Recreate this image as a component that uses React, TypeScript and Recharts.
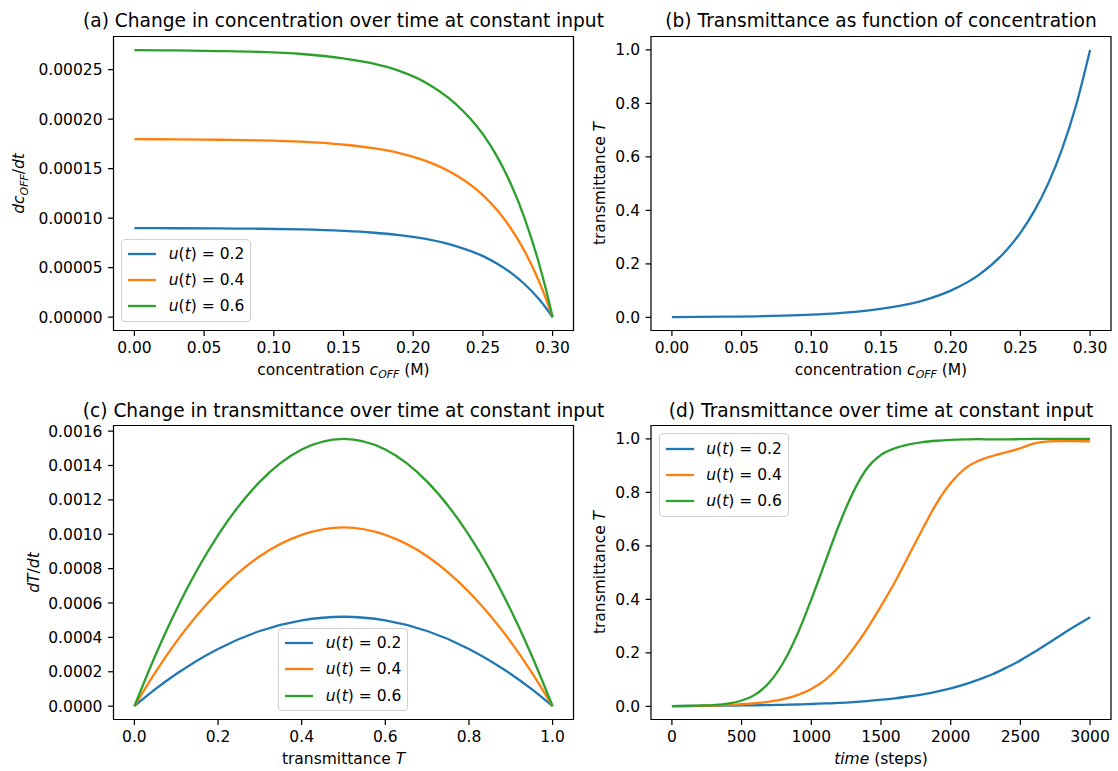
import { Legend, Line, LineChart, ReferenceArea, XAxis, YAxis } from "recharts";

const FONT = "DejaVu Sans";
const INK = "#000";
const BLUE = "#1f77b4";
const ORANGE = "#ff7f0e";
const GREEN = "#2ca02c";
const LINE_W = 2.3;
const FRAME_W = 1.24;
const TICK_STYLE = { fill: INK, fontSize: 15.5, fontFamily: FONT };

const inputs = ["0.2", "0.4", "0.6"];
const seriesColors = [BLUE, ORANGE, GREEN];
const seriesKeys = ["u02", "u04", "u06"];

// (a) dc_OFF/dt against concentration
const concA = [0, 0.03, 0.06, 0.09, 0.12, 0.15, 0.17, 0.19, 0.21, 0.23, 0.25, 0.26, 0.27, 0.28, 0.29, 0.295, 0.3];
const dcdtU02 = [0.0000899, 0.0000898, 0.0000896, 0.0000893, 0.0000886, 0.0000871, 0.0000855, 0.0000829, 0.0000787, 0.000072, 0.0000616, 0.0000542, 0.0000449, 0.0000332, 0.0000185, 0.0000098, 0];
const dcdtU04 = [0.0001798, 0.0001796, 0.0001792, 0.0001786, 0.0001772, 0.0001742, 0.000171, 0.0001658, 0.0001574, 0.000144, 0.0001232, 0.0001084, 0.0000898, 0.0000664, 0.000037, 0.0000196, 0];
const dcdtU06 = [0.0002697, 0.0002694, 0.0002688, 0.0002679, 0.0002658, 0.0002613, 0.0002565, 0.0002487, 0.0002361, 0.000216, 0.0001848, 0.0001626, 0.0001347, 0.0000996, 0.0000555, 0.0000294, 0];

// (b) transmittance against concentration
const concB = [0, 0.02, 0.04, 0.06, 0.08, 0.1, 0.12, 0.14, 0.16, 0.18, 0.2, 0.22, 0.24, 0.25, 0.26, 0.27, 0.28, 0.29, 0.3];
const transB = [0.001, 0.0016, 0.0025, 0.004, 0.0063, 0.01, 0.016, 0.025, 0.04, 0.063, 0.1, 0.158, 0.251, 0.316, 0.398, 0.501, 0.631, 0.794, 1.0];

// (c) dT/dt against transmittance
const transC = [0, 0.05, 0.1, 0.2, 0.3, 0.4, 0.5, 0.6, 0.7, 0.8, 0.9, 0.95, 1.0];
const dTdtU02 = [0, 0.0000988, 0.000187, 0.000333, 0.000437, 0.000499, 0.00052, 0.000499, 0.000437, 0.000333, 0.000187, 0.0000988, 0];
const dTdtU04 = [0, 0.000197, 0.000374, 0.000664, 0.000872, 0.000996, 0.00104, 0.000996, 0.000872, 0.000664, 0.000374, 0.000197, 0];
const dTdtU06 = [0, 0.000295, 0.00056, 0.000995, 0.001306, 0.001493, 0.001555, 0.001493, 0.001306, 0.000995, 0.00056, 0.000295, 0];

// (d) transmittance over time
const steps = [0, 100, 200, 300, 400, 500, 600, 700, 800, 900, 1000, 1100, 1200, 1300, 1400, 1500, 1600, 1700, 1800, 1900, 2000, 2100, 2200, 2300, 2400, 2500, 2600, 2700, 2800, 2900, 3000];
const transU02 = [0.001, 0.0015, 0.002, 0.0025, 0.003, 0.0035, 0.004, 0.005, 0.006, 0.007, 0.009, 0.011, 0.013, 0.016, 0.02, 0.025, 0.03, 0.037, 0.045, 0.055, 0.067, 0.082, 0.1, 0.12, 0.145, 0.172, 0.203, 0.236, 0.27, 0.302, 0.333];
const transU04 = [0.001, 0.001, 0.002, 0.003, 0.005, 0.008, 0.012, 0.018, 0.027, 0.042, 0.065, 0.099, 0.15, 0.215, 0.29, 0.375, 0.465, 0.565, 0.665, 0.76, 0.835, 0.888, 0.918, 0.936, 0.95, 0.965, 0.983, 0.991, 0.992, 0.992, 0.991];
const transU06 = [0.001, 0.002, 0.003, 0.005, 0.01, 0.022, 0.045, 0.09, 0.165, 0.27, 0.4, 0.54, 0.68, 0.8, 0.89, 0.94, 0.965, 0.979, 0.988, 0.993, 0.996, 0.998, 0.999, 0.998, 0.998, 0.999, 1.0, 1.0, 1.0, 1.0, 1.0];

const ticksConc = [0, 0.05, 0.1, 0.15, 0.2, 0.25, 0.3];
const ticksDcdt = [0, 0.00005, 0.0001, 0.00015, 0.0002, 0.00025];
const ticksUnit = [0, 0.2, 0.4, 0.6, 0.8, 1.0];
const ticksDTdt = [0, 0.0002, 0.0004, 0.0006, 0.0008, 0.001, 0.0012, 0.0014, 0.0016];
const ticksSteps = [0, 500, 1000, 1500, 2000, 2500, 3000];

const rowsOf = (xs: number[], cols: number[][]) =>
  xs.map((x, i) => {
    const row: Record<string, number> = { x };
    cols.forEach((col, k) => (row[seriesKeys[k]] = col[i]));
    return row;
  });

function LegendBox() {
  return (
    <div
      style={{
        boxSizing: "border-box",
        width: 130,
        padding: "5.5px 6px",
        border: "1.5px solid #d0d0d0",
        borderRadius: 4,
        background: "rgba(255,255,255,0.8)",
        fontFamily: FONT,
        fontSize: 15.5,
        color: INK,
      }}
    >
      {inputs.map((u, i) => (
        <div key={u} style={{ display: "flex", alignItems: "center", height: 18.3, marginTop: i ? 7.75 : 0 }}>
          <svg width={31} height={18} style={{ display: "block" }}>
            <line x1={0} x2={31} y1={9} y2={9} stroke={seriesColors[i]} strokeWidth={LINE_W} />
          </svg>
          <span style={{ marginLeft: 12.4, whiteSpace: "nowrap", lineHeight: "18px" }}>
            <i>u</i>(<i>t</i>) = {u}
          </span>
        </div>
      ))}
    </div>
  );
}

type PanelProps = {
  left: number;
  top: number;
  width: number;
  height: number;
  margin: { top: number; right: number; bottom: number; left: number };
  yWidth: number;
  data: Record<string, number>[];
  nSeries: number;
  xDomain: [number, number];
  xTicks: number[];
  xFmt: (v: number) => string;
  yDomain: [number, number];
  yTicks: number[];
  yFmt: (v: number) => string;
  legendAt?: { left: number; top: number };
};

function Panel(p: PanelProps) {
  return (
    <div style={{ position: "absolute", left: p.left, top: p.top }}>
      <LineChart width={p.width} height={p.height} data={p.data} margin={p.margin}>
        <XAxis
          dataKey="x"
          type="number"
          domain={p.xDomain}
          allowDataOverflow
          ticks={p.xTicks}
          interval={0}
          tickFormatter={p.xFmt}
          tick={TICK_STYLE}
          tickLine={{ stroke: INK, strokeWidth: FRAME_W }}
          tickSize={5.4}
          tickMargin={6.2}
          axisLine={false}
          height={30}
        />
        <YAxis
          type="number"
          domain={p.yDomain}
          allowDataOverflow
          ticks={p.yTicks}
          interval={0}
          tickFormatter={p.yFmt}
          tick={TICK_STYLE}
          tickLine={{ stroke: INK, strokeWidth: FRAME_W }}
          tickSize={5.4}
          tickMargin={5.6}
          axisLine={false}
          width={p.yWidth}
        />
        {seriesKeys.slice(0, p.nSeries).map((k, i) => (
          <Line
            key={k}
            type="monotone"
            dataKey={k}
            stroke={seriesColors[i]}
            strokeWidth={LINE_W}
            dot={false}
            activeDot={false}
            isAnimationActive={false}
          />
        ))}
        <ReferenceArea
          x1={p.xDomain[0]}
          x2={p.xDomain[1]}
          y1={p.yDomain[0]}
          y2={p.yDomain[1]}
          fill="none"
          stroke={INK}
          strokeWidth={FRAME_W}
          ifOverflow="visible"
        />
        {p.legendAt && (
          <Legend
            layout="vertical"
            align="center"
            verticalAlign="middle"
            content={() => <LegendBox />}
            wrapperStyle={{ left: p.legendAt.left, top: p.legendAt.top, width: "auto" }}
          />
        )}
      </LineChart>
    </div>
  );
}

const sub = { fontStyle: "italic" as const, fontSize: 10.9 };

export default function App() {
  const f1 = (v: number) => v.toFixed(1);
  const f2 = (v: number) => v.toFixed(2);
  return (
    <div style={{ position: "absolute", left: 0, top: 0, width: 1118, height: 771, background: "#fff" }}>
      <Panel
        left={0}
        top={0}
        width={590}
        height={390}
        margin={{ top: 36.5, right: 16.5, bottom: 29.5, left: 53.5 }}
        yWidth={60}
        data={rowsOf(concA, [dcdtU02, dcdtU04, dcdtU06])}
        nSeries={3}
        xDomain={[-0.015, 0.315]}
        xTicks={ticksConc}
        xFmt={f2}
        yDomain={[-0.0000135, 0.0002835]}
        yTicks={ticksDcdt}
        yFmt={(v) => v.toFixed(5)}
        legendAt={{ left: 121.3, top: 238.5 }}
      />
      <Panel
        left={590}
        top={0}
        width={528}
        height={390}
        margin={{ top: 36.5, right: 7, bottom: 29.5, left: 21 }}
        yWidth={40}
        data={rowsOf(concB, [transB])}
        nSeries={1}
        xDomain={[-0.015, 0.315]}
        xTicks={ticksConc}
        xFmt={f2}
        yDomain={[-0.049, 1.05]}
        yTicks={ticksUnit}
        yFmt={f1}
      />
      <Panel
        left={0}
        top={390}
        width={590}
        height={381}
        margin={{ top: 35.5, right: 16.5, bottom: 21.5, left: 53.5 }}
        yWidth={60}
        data={rowsOf(transC, [dTdtU02, dTdtU04, dTdtU06])}
        nSeries={3}
        xDomain={[-0.05, 1.05]}
        xTicks={ticksUnit}
        xFmt={f1}
        yDomain={[-0.00007775, 0.00163275]}
        yTicks={ticksDTdt}
        yFmt={(v) => v.toFixed(4)}
        legendAt={{ left: 278.3, top: 237.8 }}
      />
      <Panel
        left={590}
        top={390}
        width={528}
        height={381}
        margin={{ top: 35.5, right: 7, bottom: 21.5, left: 21 }}
        yWidth={40}
        data={rowsOf(steps, [transU02, transU04, transU06])}
        nSeries={3}
        xDomain={[-150, 3150]}
        xTicks={ticksSteps}
        xFmt={(v) => String(v)}
        yDomain={[-0.049, 1.05]}
        yTicks={ticksUnit}
        yFmt={f1}
        legendAt={{ left: 68.8, top: 43.3 }}
      />

      {/* titles and axis labels */}
      <svg
        width={1118}
        height={771}
        style={{ position: "absolute", left: 0, top: 0, pointerEvents: "none" }}
        fontFamily={FONT}
        fill={INK}
      >
        <g fontSize={18.6} textAnchor="middle">
          <text x={343.5} y={27.3}>(a) Change in concentration over time at constant input</text>
          <text x={881} y={27.3}>(b) Transmittance as function of concentration</text>
          <text x={343.5} y={416.5}>(c) Change in transmittance over time at constant input</text>
          <text x={881} y={416.5}>(d) Transmittance over time at constant input</text>
        </g>
        <g fontSize={15.5} textAnchor="middle">
          <text x={343.5} y={374.5}>
            {"concentration "}
            <tspan fontStyle="italic">c</tspan>
            <tspan {...sub} dy={3.5}>OFF</tspan>
            <tspan dy={-3.5}>{" (M)"}</tspan>
          </text>
          <text x={881} y={374.5}>
            {"concentration "}
            <tspan fontStyle="italic">c</tspan>
            <tspan {...sub} dy={3.5}>OFF</tspan>
            <tspan dy={-3.5}>{" (M)"}</tspan>
          </text>
          <text x={343.5} y={763.5}>
            {"transmittance "}
            <tspan fontStyle="italic">T</tspan>
          </text>
          <text x={881} y={763.5}>
            <tspan fontStyle="italic">time</tspan>
            {" (steps)"}
          </text>
          <text transform="translate(24,183.5) rotate(-90)">
            <tspan fontStyle="italic">dc</tspan>
            <tspan {...sub} dy={3.5}>OFF</tspan>
            <tspan dy={-3.5}>/</tspan>
            <tspan fontStyle="italic">dt</tspan>
          </text>
          <text transform="translate(605,183.5) rotate(-90)">
            {"transmittance "}
            <tspan fontStyle="italic">T</tspan>
          </text>
          <text transform="translate(39,572.5) rotate(-90)">
            <tspan fontStyle="italic">dT</tspan>
            {"/"}
            <tspan fontStyle="italic">dt</tspan>
          </text>
          <text transform="translate(605,572.5) rotate(-90)">
            {"transmittance "}
            <tspan fontStyle="italic">T</tspan>
          </text>
        </g>
      </svg>
    </div>
  );
}
